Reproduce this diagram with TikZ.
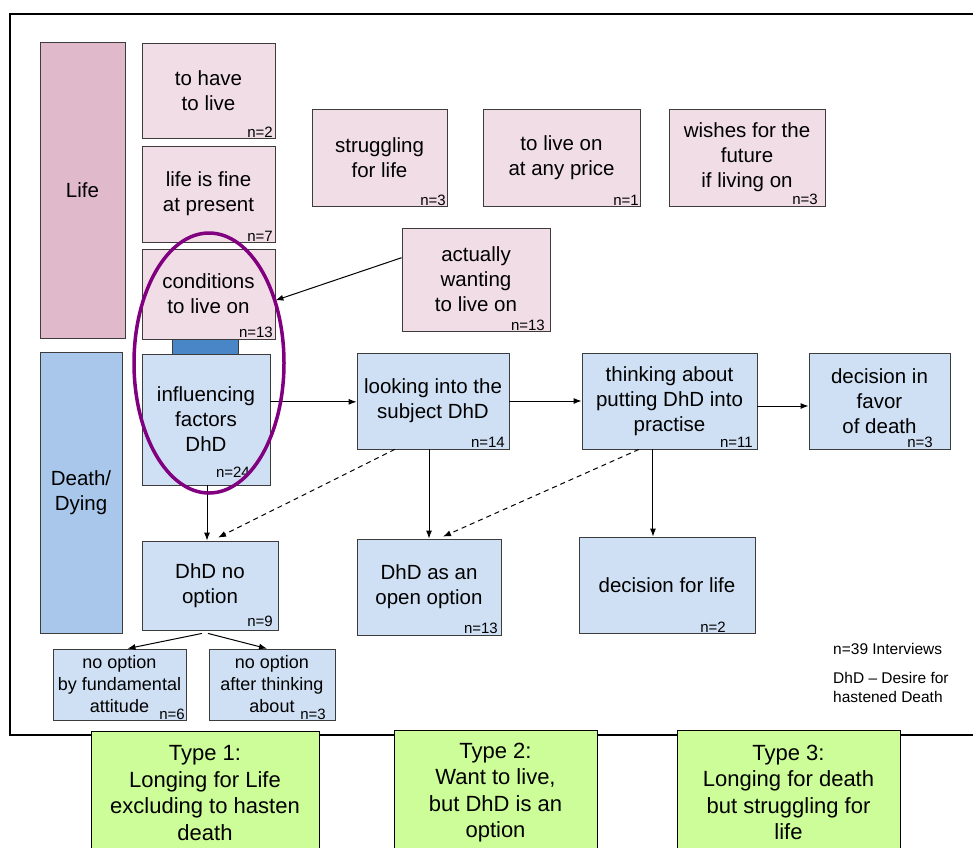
\documentclass[tikz,border=0pt]{standalone}
\usepackage{fontspec}
\setmainfont{Liberation Sans}
\usetikzlibrary{arrows.meta,calc,shapes.geometric}
\definecolor{pinkL}{RGB}{240,221,229}
\definecolor{pinkD}{RGB}{224,185,203}
\definecolor{blueL}{RGB}{207,224,244}
\definecolor{blueD}{RGB}{168,199,235}
\definecolor{blueB}{RGB}{73,134,200}
\definecolor{greenT}{RGB}{204,253,152}
\definecolor{boxline}{RGB}{60,60,60}
\definecolor{ellc}{RGB}{128,0,128}
\newcommand\bx[7]{\node[#6, minimum width={(#4-#2)*1pt}, minimum height={(#5-#3)*1pt}] (#1) at ({(#2+#4)/2},{(#3+#5)/2}) {#7};}
\newcommand\nl[4]{\node[nlab] (#1-n) at (#2,#3) {#4};}
\tikzset{
  box/.style={draw=boxline, line width=0.8pt, inner sep=0pt, align=center, font=\fontsize{20.5}{25}\selectfont},
  lifeL/.style={box, fill=pinkL},
  lifeD/.style={box, fill=pinkD},
  dieL/.style={box, fill=blueL},
  dieD/.style={box, fill=blueD},
  smallbox/.style={box, fill=blueL, font=\fontsize{18}{22}\selectfont},
  typebox/.style={draw=black, line width=1pt, fill=greenT, inner sep=0pt, align=center, font=\fontsize{22}{26.5}\selectfont},
  nlab/.style={anchor=base east, inner sep=0pt, font=\fontsize{15}{18}\selectfont},
  note/.style={anchor=west, inner sep=0pt, align=left, font=\fontsize{15.5}{19}\selectfont},
  arr/.style={-{Latex[length=8pt,width=6pt]}, line width=1pt},
  darr/.style={arr, dashed, dash pattern=on 5pt off 4pt}
}
\begin{document}
\begin{tikzpicture}[x=1pt,y=-1pt]
\useasboundingbox (0,0) rectangle (973,847);
\clip (0,0) rectangle (973,847);
\fill[white] (0,0) rectangle (973,847);
% frame
\draw[line width=1.3pt] (973,14) -- (10,14) -- (10,735) -- (973,735);
% life column
\bx{life}{40}{42}{125}{338}{lifeD}{Life}
\bx{have}{142}{43}{275}{138}{lifeL}{to have\\to live}
\bx{fine}{142}{146}{275}{242}{lifeL}{life is fine\\at present}
\bx{cond}{142}{249}{275}{339}{lifeL}{conditions\\to live on}
\bx{strug}{312}{109}{447}{206}{lifeL}{struggling\\for life}
\bx{price}{483}{109}{640}{206}{lifeL}{to live on\\at any price}
\bx{wish}{669}{109}{825}{206}{lifeL}{wishes for the\\future\\if living on}
\bx{want}{402}{228}{550}{331}{lifeL}{actually\\wanting\\to live on}
% death column
\bx{dying}{40}{352}{122}{633}{dieD}{Death/\\Dying}
\bx{block}{172}{339}{238}{354}{box, fill=blueB}{}
\bx{infl}{142}{354}{270}{485}{dieL}{influencing\\factors\\DhD}
\bx{look}{357}{353}{509}{449}{dieL}{looking into the\\subject DhD}
\bx{think}{582}{353}{757}{449}{dieL}{thinking about\\putting DhD into\\practise}
\bx{favor}{809}{353}{950}{449}{dieL}{decision in\\favor\\of death}
\bx{noopt}{142}{541}{278}{630}{dieL}{DhD no\\option}
\bx{open}{357}{539}{501}{635}{dieL}{DhD as an\\open option}
\bx{dlife}{579}{537}{755}{633}{dieL}{decision for life}
\bx{fund}{53}{649}{186}{720}{smallbox}{no option\\by fundamental\\attitude}
\bx{after}{209}{649}{335}{720}{smallbox}{no option\\after thinking\\about}
% n labels
\nl{have}{273}{137}{n=2}
\nl{fine}{273}{241}{n=7}
\nl{cond}{273}{337}{n=13}
\nl{strug}{446}{205}{n=3}
\nl{price}{639}{205}{n=1}
\nl{wish}{818}{204}{n=3}
\nl{want}{545}{330}{n=13}
\nl{infl}{250}{477}{n=24}
\nl{look}{505}{447}{n=14}
\nl{think}{753}{447}{n=11}
\nl{favor}{933}{447}{n=3}
\nl{noopt}{273}{626}{n=9}
\nl{open}{498}{633}{n=13}
\nl{dlife}{726}{632}{n=2}
\nl{fund}{185}{719}{n=6}
\nl{after}{326}{719}{n=3}
% notes
\node[note] (n39) at (833,649) {n=39 Interviews};
\node[note] (dhdnote) at (833,687) {DhD -- Desire for\\hastened Death};
% connectors
\draw[arr] ($(want.north west)!0.29!(want.south west)$) -- ($(cond.north east)!0.57!(cond.south east)$);
\coordinate (inflout) at ($(infl.north east)!0.366!(infl.south east)$);
\draw[arr] (inflout) -- (inflout -| look.west);
\draw[arr] (look.east) -- (think.west);
\draw[arr] ([yshift=-5pt]think.east) -- ([yshift=-5pt]favor.west);
\draw[arr] ([xshift=1pt]infl.south) -- ([xshift=1pt]infl.south |- noopt.north);
\draw[darr] ($(look.south west)!0.25!(look.south east)$) -- ([xshift=8pt,yshift=3pt]noopt.north);
\draw[arr] (open.north |- look.south) -- (open.north);
\draw[darr] ($(think.south west)!0.326!(think.south east)$) -- ([xshift=14pt,yshift=2pt]open.north);
\coordinate (thinkout) at ($(think.south west)!0.406!(think.south east)$);
\draw[arr] (thinkout) -- (thinkout |- dlife.north);
\draw[arr] ([xshift=-8pt,yshift=-3pt]noopt.south) -- ([xshift=8pt]fund.north);
\draw[arr] ([xshift=-2pt,yshift=-3pt]noopt.south) -- ([xshift=-5pt]after.north);
% ellipse
\node[ellipse, draw=ellc, line width=3.5pt, minimum width=150pt, minimum height=260pt, inner sep=0pt] (ell) at (209,363) {};
% type boxes
\bx{t1}{91}{731}{319}{855}{typebox}{Type 1:\\Longing for Life\\excluding to hasten\\death}
\bx{t2}{394}{730}{597}{855}{typebox}{Type 2:\\Want to live,\\but DhD is an\\option}
\bx{t3}{677}{730}{900}{855}{typebox}{Type 3:\\Longing for death\\but struggling for\\life}
\end{tikzpicture}
\end{document}
